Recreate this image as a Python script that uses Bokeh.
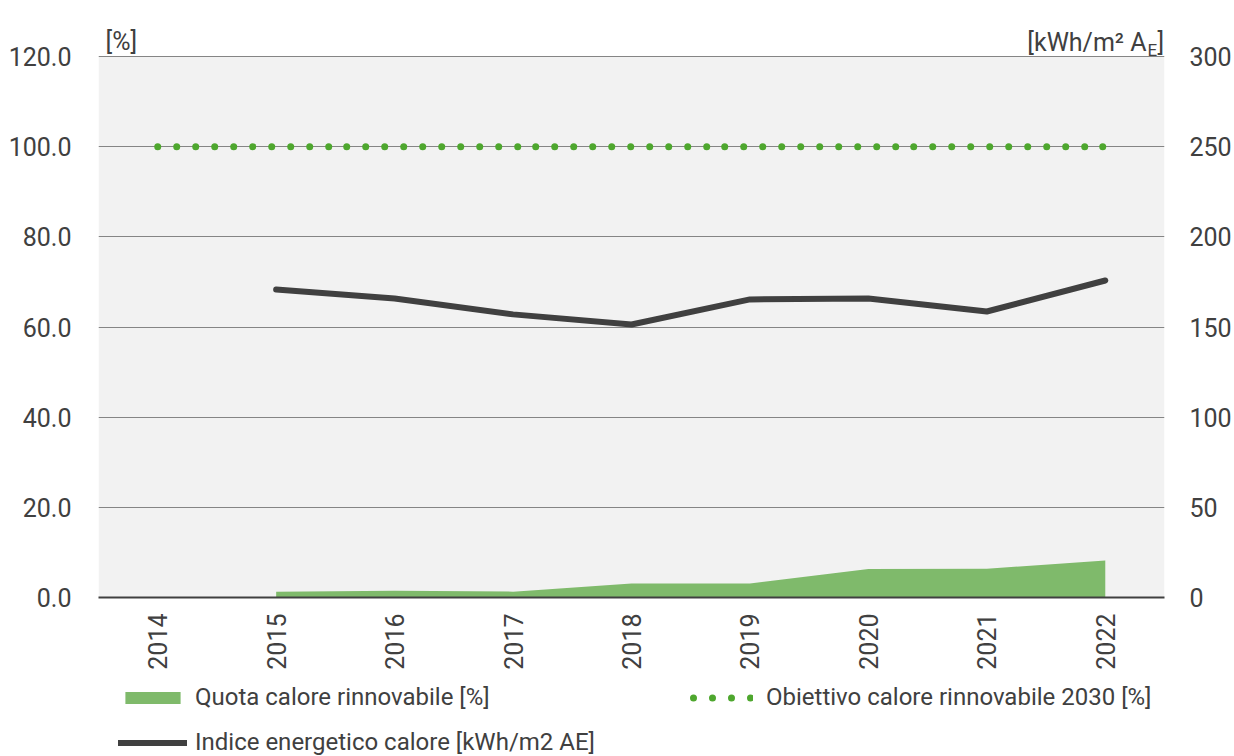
from bokeh.plotting import figure
from bokeh.layouts import column
from bokeh.models import (FactorRange, Range1d, LinearAxis, FixedTicker, NumeralTickFormatter,
                          Legend, LegendItem, Label, BoxAnnotation)
from bokeh.embed import file_html
from bokeh.resources import INLINE
import math

years = ["2014", "2015", "2016", "2017", "2018", "2019", "2020", "2021", "2022"]
quota_years = ["2015", "2016", "2017", "2018", "2019", "2020", "2021", "2022"]
quota = [1.3, 1.5, 1.3, 3.1, 3.1, 6.3, 6.4, 8.2]
indice = [170.8, 165.8, 157.0, 151.4, 165.3, 165.8, 158.6, 175.8]
obiettivo = [100.0] * 9
left_ticks = [0, 20, 40, 60, 80, 100, 120]
right_ticks = [0, 50, 100, 150, 200, 250, 300]

FONT = "Roboto"
TXT = "#404040"
GREEN_AREA = "#7fba6b"
GREEN_DOT = "#4ea72e"
DARK = "#404040"
DOT_DASH = " ".join(["0 19"] * 9 + ["0 18"])   # ~18.9 px dot pitch

W, H_MAIN, H_LEG = 1234, 674, 82
F_LEFT, F_RIGHT, F_TOP, F_BOTTOM = 98, 1165, 10, 597   # frame edges (px)
GREY_TOP = 56                                          # where 120 % / 300 sit
scale = (F_BOTTOM - F_TOP) / (F_BOTTOM - GREY_TOP)


def draw_series(fig, y_name, dash_offset=0):
    a = fig.varea(x=quota_years, y1=0, y2=quota, fill_color=GREEN_AREA)
    l = fig.line(x=years[1:], y=indice, y_range_name=y_name, line_color=DARK,
                 line_width=6, line_cap="round", line_join="round")
    d = fig.line(x=years, y=obiettivo, line_color=GREEN_DOT, line_width=7,
                 line_dash=DOT_DASH, line_dash_offset=dash_offset, line_cap="round")
    return a, l, d


p = figure(width=W, height=H_MAIN, x_range=FactorRange(*years),
           y_range=Range1d(0, 120 * scale),
           output_backend="svg", toolbar_location=None,
           min_border_left=F_LEFT, min_border_right=W - F_RIGHT,
           min_border_top=F_TOP, min_border_bottom=H_MAIN - F_BOTTOM)
p.outline_line_color = None
p.background_fill_color = "white"
p.border_fill_color = "white"
p.extra_y_ranges = {"kwh": Range1d(0, 300 * scale)}

# grey plotting area up to 120 %
p.add_layout(BoxAnnotation(bottom=0, top=120, fill_color="#f2f2f2", fill_alpha=1,
                           line_color=None, level="image"))

p.xgrid.grid_line_color = None
p.ygrid.grid_line_color = "#858585"
p.ygrid.grid_line_width = 1.2
p.ygrid.ticker = FixedTicker(ticks=left_ticks)

draw_series(p, "kwh")

# axes
ya = p.yaxis[0]
ya.ticker = FixedTicker(ticks=left_ticks)
ya.formatter = NumeralTickFormatter(format="0.0")
ra = LinearAxis(y_range_name="kwh", ticker=FixedTicker(ticks=right_ticks))
p.add_layout(ra, "right")
xa = p.xaxis[0]
for ax in (ya, ra, xa):
    ax.major_tick_line_color = None
    ax.minor_tick_line_color = None
    ax.major_tick_out = 0
    ax.major_tick_in = 0
    ax.minor_tick_out = 0
    ax.minor_tick_in = 0
    ax.major_label_text_font = FONT
    ax.major_label_text_font_size = "25px"
    ax.major_label_text_color = TXT
ya.axis_line_color = None
ra.axis_line_color = None
ya.major_label_standoff = 27
ra.major_label_standoff = 25
xa.axis_line_color = DARK
xa.axis_line_width = 2
xa.major_label_orientation = math.pi / 2
xa.major_label_standoff = 16

# unit labels (inside the enlarged frame, above the grey area)
def lab(text, x_px, base_px, size, align="left"):
    p.add_layout(Label(x=x_px - F_LEFT, y=F_BOTTOM - base_px, x_units="screen", y_units="screen",
                       text=text, text_font=FONT, text_font_size=size, text_color=TXT,
                       text_align=align, text_baseline="alphabetic"))

lab("[%]", 105, 41, "25px")
lab("[kWh/m² A", 1146, 42, "25px", "right")
lab("E", 1147, 49, "17px")
lab("]", 1157, 42, "25px")

# legend strip below the chart (series drawn out of view, only the legend shows)
lg = figure(width=W, height=H_LEG, x_range=FactorRange(*years), y_range=Range1d(-200, -100),
            output_backend="svg", toolbar_location=None,
            x_axis_type=None, y_axis_type=None,
            min_border_left=F_LEFT, min_border_right=W - F_RIGHT,
            min_border_top=0, min_border_bottom=0)
lg.extra_y_ranges = {"kwh": Range1d(-200, -100)}
lg.outline_line_color = None
lg.grid.visible = False
r_area, r_line, r_dots = draw_series(lg, "kwh", dash_offset=15)

common = dict(background_fill_alpha=0, border_line_color=None, padding=0, margin=0,
              label_text_font=FONT, label_text_font_size="24px", label_text_color=TXT,
              glyph_height=15, label_height=28, spacing=17)
leg1 = Legend(items=[LegendItem(label="Quota calore rinnovabile [%]", renderers=[r_area]),
                     LegendItem(label="Indice energetico calore [kWh/m2 AE]", renderers=[r_line])],
              location=(118 - F_LEFT, 0), glyph_width=69, label_standoff=8, **common)
leg2 = Legend(items=[LegendItem(label="Obiettivo calore rinnovabile 2030 [%]", renderers=[r_dots])],
              location=(689 - F_LEFT, 45), glyph_width=64, label_standoff=13, **common)
lg.add_layout(leg1)
lg.add_layout(leg2)

page = column(p, lg, spacing=0)
open("out.html", "w").write(file_html(page, INLINE))
